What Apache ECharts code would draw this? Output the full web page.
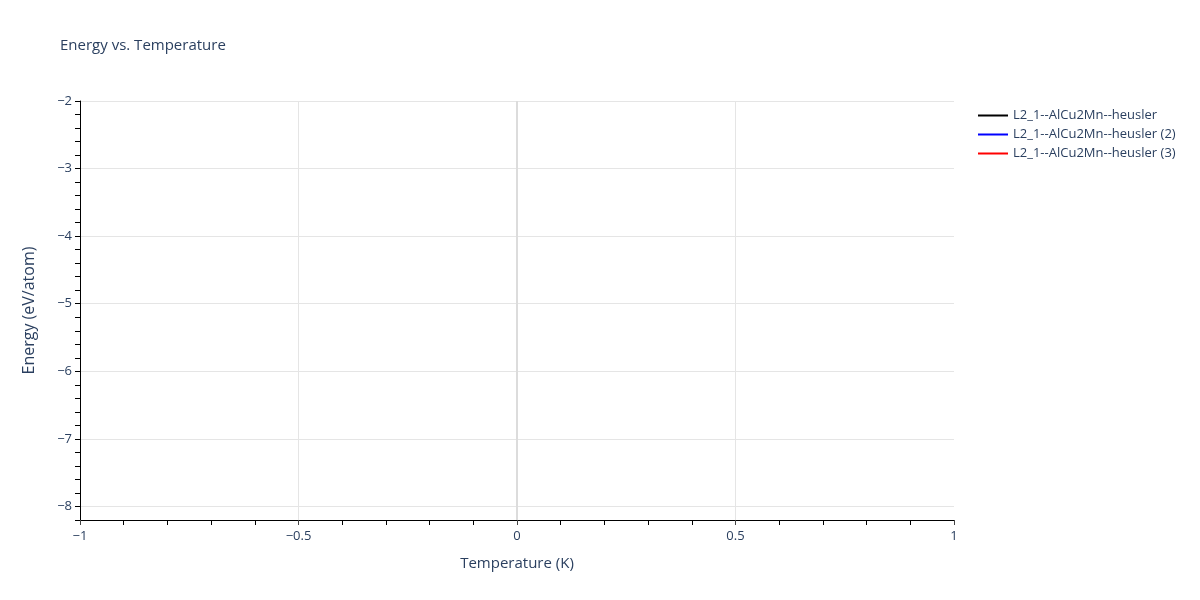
<!DOCTYPE html>
<html>
<head>
<meta charset="utf-8">
<script src="https://cdn.jsdelivr.net/npm/echarts@6/dist/echarts.min.js"></script>
<style>
  html, body { margin: 0; padding: 0; background: #fff; }
  #main { width: 1200px; height: 600px; }
</style>
</head>
<body>
<div id="main"></div>
<script>
var seriesNames = ['L2_1--AlCu2Mn--heusler', 'L2_1--AlCu2Mn--heusler (2)', 'L2_1--AlCu2Mn--heusler (3)'];
var seriesColors = ['#000000', '#0000ff', '#ff0000'];
// the traces carry no visible points
var seriesData = [[], [], []];
var xTicks = [-1, -0.5, 0, 0.5, 1];
var yTicks = [-8, -7, -6, -5, -4, -3, -2];
var yMin = -8.2;
var zeroLine = [0];

var textColor = '#2a3f5f';
var fontName = '"Open Sans", Verdana, Arial, sans-serif';

function minus(v) {
    return String(v).replace('-', '\u2212');
}

var chart = echarts.init(document.getElementById('main'), null, { renderer: 'canvas' });

var series = [];
for (var i = 0; i < seriesNames.length; i++) {
    series.push({
        name: seriesNames[i],
        type: 'line',
        data: seriesData[i],
        showSymbol: false,
        lineStyle: { color: seriesColors[i], width: 2 },
        itemStyle: { color: seriesColors[i] }
    });
}
// zero line on x
series[0].markLine = {
    silent: true,
    symbol: 'none',
    label: { show: false },
    lineStyle: { color: '#dcdcdc', width: 2, type: 'solid' },
    data: zeroLine.map(function (v) { return { xAxis: v }; })
};

var option = {
    animation: false,
    backgroundColor: '#fff',
    title: {
        text: 'Energy vs. Temperature',
        left: 60,
        top: 38,
        padding: 0,
        textStyle: { color: textColor, fontSize: 15, fontWeight: 'normal', fontFamily: fontName }
    },
    legend: {
        orient: 'vertical',
        left: 973,
        top: 104,
        icon: 'rect',
        itemWidth: 30,
        itemHeight: 2,
        itemGap: 6,
        textStyle: { color: textColor, fontSize: 13, fontFamily: fontName },
        data: seriesNames
    },
    grid: { left: 80, right: 246, top: 101, bottom: 80, containLabel: false },
    xAxis: {
        type: 'value',
        min: xTicks[0],
        max: xTicks[xTicks.length - 1],
        interval: 0.5,
        name: 'Temperature (K)',
        nameLocation: 'middle',
        nameGap: 36,
        nameTextStyle: { color: textColor, fontSize: 15, fontFamily: fontName },
        axisLine: { show: true, onZero: false, lineStyle: { color: '#000', width: 1 } },
        axisTick: { show: true, length: 5, lineStyle: { color: '#444' } },
        minorTick: { show: true, splitNumber: 5, length: 5, lineStyle: { color: '#000' } },
        axisLabel: {
            color: textColor, fontSize: 13, fontFamily: fontName, margin: 10,
            formatter: function (v) { return minus(v); }
        },
        splitLine: { show: true, showMinLine: false, showMaxLine: false, lineStyle: { color: '#e5e5e5', width: 1 } }
    },
    yAxis: {
        type: 'value',
        min: yMin,
        max: yTicks[yTicks.length - 1],
        interval: 0.2,
        name: 'Energy (eV/atom)',
        nameLocation: 'middle',
        nameGap: 43,
        nameTextStyle: { color: textColor, fontSize: 16, fontFamily: fontName },
        axisLine: { show: true, onZero: false, lineStyle: { color: '#000', width: 1 } },
        axisTick: { show: true, length: 5, lineStyle: { color: '#000' } },
        axisLabel: {
            color: textColor, fontSize: 13, fontFamily: fontName, margin: 8,
            formatter: function (v) {
                var r = Math.round(v);
                if (Math.abs(v - r) < 1e-6 && yTicks.indexOf(r) >= 0) return minus(r);
                return '';
            }
        },
        splitLine: {
            show: true,
            lineStyle: {
                color: ['rgba(0,0,0,0)', '#e5e5e5', 'rgba(0,0,0,0)', 'rgba(0,0,0,0)', 'rgba(0,0,0,0)'],
                width: 1
            }
        }
    },
    series: series
};

chart.setOption(option);
</script>
</body>
</html>
